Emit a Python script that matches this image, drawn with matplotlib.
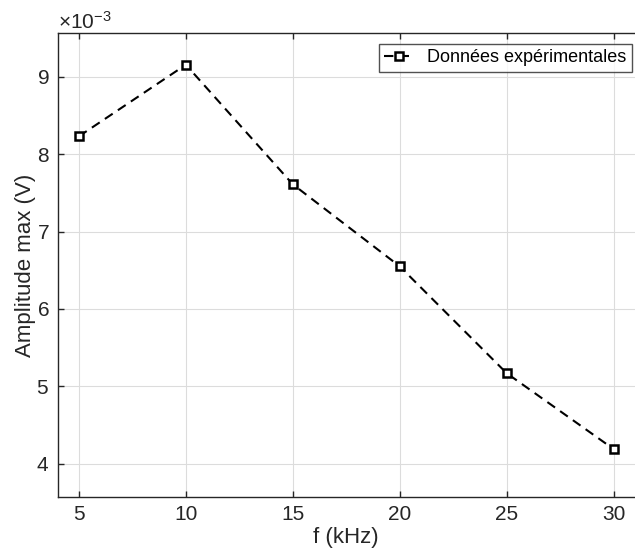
import matplotlib
matplotlib.use('Agg')
import matplotlib.pyplot as plt
from matplotlib.ticker import ScalarFormatter

plt.rcParams['font.family'] = ['Liberation Sans', 'DejaVu Sans']
plt.rcParams['mathtext.fontset'] = 'custom'
plt.rcParams['mathtext.rm'] = 'Liberation Sans'
plt.rcParams['mathtext.it'] = 'Liberation Sans'

# données
freq_khz = [5, 10, 15, 20, 25, 30]
amplitude = [8.23e-3, 9.155e-3, 7.61e-3, 6.55e-3, 5.17e-3, 4.19e-3]
label = 'Données expérimentales'

axis_col = '#262626'

fig = plt.figure(figsize=(6.35, 5.56), dpi=100)
ax = fig.add_axes([0.0906, 0.106, 0.9094, 0.834])

ax.plot(freq_khz, amplitude, linestyle='--', color='black', linewidth=1.5,
        dashes=(4.5, 3), marker='s', markersize=5.5, markerfacecolor='white',
        markeredgecolor='black', markeredgewidth=1.8, label=label)

ax.set_xlim(4, 31)
ax.set_ylim(3.57e-3, 9.56e-3)
ax.set_xticks([5, 10, 15, 20, 25, 30])
ax.set_yticks([4e-3, 5e-3, 6e-3, 7e-3, 8e-3, 9e-3])

fmt = ScalarFormatter(useMathText=True)
fmt.set_powerlimits((0, 0))
ax.yaxis.set_major_formatter(fmt)
ax.yaxis.get_offset_text().set_fontsize(15)
ax.yaxis.get_offset_text().set_color(axis_col)

ax.set_xlabel('f (kHz)', fontsize=16, color=axis_col, labelpad=2)
ax.set_ylabel('Amplitude max (V)', fontsize=16, color=axis_col, labelpad=0)

ax.tick_params(direction='in', length=4, width=1, colors=axis_col,
               labelsize=15, top=True, right=False, pad=6)
ax.grid(True, color='#dcdcdc', linewidth=0.8)
for s in ax.spines.values():
    s.set_color(axis_col)
    s.set_linewidth(1)
ax.spines['right'].set_visible(False)

leg = ax.legend(loc='upper right', bbox_to_anchor=(0.995, 0.977),
                fontsize=13, frameon=True, fancybox=False,
                edgecolor=axis_col, borderpad=0.3, handlelength=1.7,
                handletextpad=0.7, borderaxespad=0)
leg.get_frame().set_linewidth(1)

fig.savefig('out.png', dpi=100)
